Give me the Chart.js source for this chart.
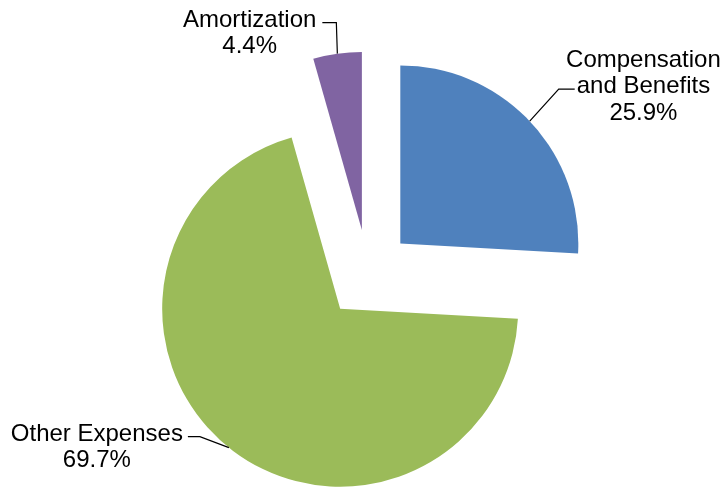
<!DOCTYPE html>
<html>
<head>
<meta charset="utf-8">
<script src="https://cdn.jsdelivr.net/npm/chart.js@4"></script>
<style>
  body { margin: 0; background: #fff; }
  #wrap { width: 726px; height: 488px; }
</style>
</head>
<body>
<div id="wrap"><canvas id="canva_pie"></canvas></div>
<script>
var categorias = [['Compensation', 'and Benefits'], ['Other Expenses'], ['Amortization']];
var valores = [25.9, 69.7, 4.4];
var colores = ['#4F81BD', '#9BBB59', '#8064A2'];

// leader line for each slice: elbow from the arc edge, horizontal run, text line it points at
var guias = [
    { elbow: [29, -32], run: 16, linea: 1, gap: 2 },
    { elbow: [-29, -11], run: -12, linea: 0, gap: 5 },
    { elbow: [-1, -31], run: -14, linea: 0, gap: 6 }
];

// slices pulled out by the full offset, same radius for all (like Excel's exploded pie)
class ExplodedArc extends Chart.ArcElement {
    static id = 'explodedArc';
    draw(ctx) {
        var mid = (this.startAngle + this.endAngle) / 2;
        var off = this.options.offset || 0;
        var cx = this.x + Math.cos(mid) * off;
        var cy = this.y + Math.sin(mid) * off;
        ctx.save();
        ctx.fillStyle = this.options.backgroundColor;
        ctx.beginPath();
        ctx.moveTo(cx, cy);
        ctx.arc(cx, cy, this.outerRadius, this.startAngle, this.endAngle);
        ctx.closePath();
        ctx.fill();
        ctx.restore();
    }
}
Chart.register(ExplodedArc);
Chart.defaults.datasets.pie.dataElementType = 'explodedArc';

var etiquetas = {
    id: 'etiquetas',
    afterDatasetsDraw: function (chart) {
        var ctx = chart.ctx;
        var meta = chart.getDatasetMeta(0);
        var total = valores.reduce(function (a, b) { return a + b; }, 0);
        ctx.save();
        ctx.font = '24px "Liberation Sans", Arial, sans-serif';
        ctx.fillStyle = '#000';
        ctx.strokeStyle = '#000';
        ctx.lineWidth = 1.2;
        meta.data.forEach(function (el, i) {
            var g = guias[i];
            var mid = (el.startAngle + el.endAngle) / 2;
            var r = el.outerRadius + el.options.offset;
            var ex = el.x + Math.cos(mid) * r;
            var ey = el.y + Math.sin(mid) * r;
            var bx = ex + g.elbow[0], by = ey + g.elbow[1];
            var fx = bx + g.run, fy = by;
            ctx.beginPath();
            ctx.moveTo(ex, ey);
            ctx.lineTo(bx, by);
            ctx.lineTo(fx, fy);
            ctx.stroke();

            var lineas = categorias[i].concat([(valores[i] / total * 100).toFixed(1) + '%']);
            var w = ctx.measureText(lineas[g.linea]).width;
            var centro = g.run > 0 ? fx + g.gap + w / 2 : fx - g.gap - w / 2;
            var base = fy + 4;
            ctx.textAlign = 'center';
            ctx.textBaseline = 'alphabetic';
            lineas.forEach(function (t, k) {
                ctx.fillText(t, centro, base + (k - g.linea) * 26.5);
            });
        });
        ctx.restore();
    }
};

var ctx = document.getElementById('canva_pie').getContext('2d');
var myChartPie = new Chart(ctx, {
    type: 'pie',
    data: {
        labels: categorias,
        datasets: [{
            data: valores,
            backgroundColor: colores,
            borderWidth: 0,
            offset: 44.5
        }]
    },
    options: {
        responsive: true,
        maintainAspectRatio: false,
        animation: false,
        radius: 178,
        layout: { padding: { left: 10, right: 0, top: 60, bottom: 0 } },
        plugins: {
            legend: { display: false },
            tooltip: { enabled: false }
        }
    },
    plugins: [etiquetas]
});
</script>
</body>
</html>
